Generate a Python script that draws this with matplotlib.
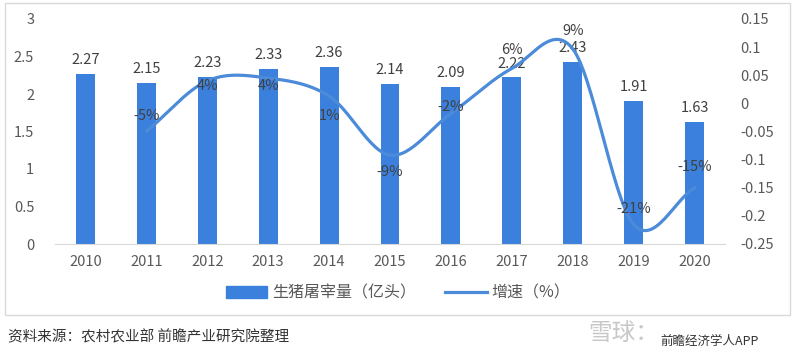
import numpy as np
import matplotlib.pyplot as plt
from matplotlib.patches import Rectangle
from matplotlib.lines import Line2D

plt.rcParams['font.family'] = ['Noto Sans CJK SC', 'DejaVu Sans']

years = ['2010', '2011', '2012', '2013', '2014', '2015', '2016', '2017', '2018', '2019', '2020']
slaughter = [2.27, 2.15, 2.23, 2.33, 2.36, 2.14, 2.09, 2.22, 2.43, 1.91, 1.63]
growth = [-0.05, 0.04, 0.045, 0.013, -0.092, -0.018, 0.062, 0.097, -0.215, -0.15]
growth_labels = ['-5%', '4%', '4%', '1%', '-9%', '-2%', '6%', '9%', '-21%', '-15%']
# label offsets (points) from each growth point
lab_off = [(0, 11), (0, -4), (0, -6), (0, -14), (0, -12), (0, 5), (0, 13), (0, 13), (0, 11), (0, 15)]

bar_color = '#3b80dc'
line_color = '#4b8bd9'
txt = '#595959'
fs = 10.5


def catmull(xs, ys, n=30):
    xs = np.asarray(xs, float)
    ys = np.asarray(ys, float)
    px = np.concatenate([[2 * xs[0] - xs[1]], xs, [2 * xs[-1] - xs[-2]]])
    py = np.concatenate([[2 * ys[0] - ys[1]], ys, [2 * ys[-1] - ys[-2]]])
    ox, oy = [], []
    t = np.linspace(0, 1, n, endpoint=False)
    for i in range(1, len(px) - 2):
        for p, o in ((px, ox), (py, oy)):
            p0, p1, p2, p3 = p[i - 1], p[i], p[i + 1], p[i + 2]
            o.extend(0.5 * ((2 * p1) + (-p0 + p2) * t + (2 * p0 - 5 * p1 + 4 * p2 - p3) * t ** 2
                            + (-p0 + 3 * p1 - 3 * p2 + p3) * t ** 3))
    ox.append(xs[-1])
    oy.append(ys[-1])
    return np.array(ox), np.array(oy)


fig = plt.figure(figsize=(8, 3.55), dpi=100)
fig.patches.append(Rectangle((5 / 800, 40 / 355), 785 / 800, 312 / 355, transform=fig.transFigure,
                             fill=False, edgecolor='#d9d9d9', lw=1))

ax = fig.add_axes([55 / 800, 111 / 355, 670 / 800, 225 / 355])
x = np.arange(len(years))
ax.bar(x, slaughter, width=0.31, color=bar_color, zorder=2)
for xi, v in zip(x, slaughter):
    ax.annotate(f'{v:.2f}', (xi, v), xytext=(0, 5), textcoords='offset points',
                ha='center', va='bottom', fontsize=fs, color='#404040')
ax.set_xlim(-0.5, 10.5)
ax.set_ylim(0, 3)
ax.set_yticks([0, 0.5, 1, 1.5, 2, 2.5, 3])
ax.set_yticklabels(['0', '0.5', '1', '1.5', '2', '2.5', '3'])
ax.set_xticks(x)
ax.set_xticklabels(years)
for s in ['top', 'right', 'left']:
    ax.spines[s].set_visible(False)
ax.spines['bottom'].set_color('#d9d9d9')
ax.tick_params(length=0, colors=txt, labelsize=fs)
ax.tick_params(axis='x', pad=8)
ax.tick_params(axis='y', pad=15)

ax2 = ax.twinx()
gx = x[1:]
sx, sy = catmull(gx, growth)
ax2.plot(sx, sy, color=line_color, lw=2.3, zorder=3, solid_capstyle='round')
for xi, v, lab, off in zip(gx, growth, growth_labels, lab_off):
    ax2.annotate(lab, (xi, v), xytext=off, textcoords='offset points',
                 ha='center', va='center', fontsize=fs, color='#404040')
ax2.set_ylim(-0.25, 0.15)
ax2.set_yticks([-0.25, -0.2, -0.15, -0.1, -0.05, 0, 0.05, 0.1, 0.15])
ax2.set_yticklabels(['-0.25', '-0.2', '-0.15', '-0.1', '-0.05', '0', '0.05', '0.1', '0.15'])
for s in ax2.spines.values():
    s.set_visible(False)
ax2.tick_params(length=0, colors=txt, labelsize=fs, pad=11)

handles = [Rectangle((0, 0), 1, 1, color=bar_color), Line2D([0], [0], color=line_color, lw=2.3)]
fig.legend(handles, ['生猪屠宰量（亿头）', '增速（%）'], loc='center', bbox_to_anchor=(398 / 800, 62 / 355),
           ncol=2, frameon=False, fontsize=11.5, labelcolor=txt, handlelength=2.6, columnspacing=1.8,
           handletextpad=0.3)

fig.text(8 / 800, 18 / 355, '资料来源：农村农业部 前瞻产业研究院整理', fontsize=10.5, color='#333333',
         va='center')
fig.text(588 / 800, 22 / 355, '雪球：', fontsize=17, color='#c8c8c8', va='center')
fig.text(660 / 800, 14 / 355, '前瞻经济学人APP', fontsize=9, color='#333333', va='center')

fig.savefig('out.png', dpi=100)
